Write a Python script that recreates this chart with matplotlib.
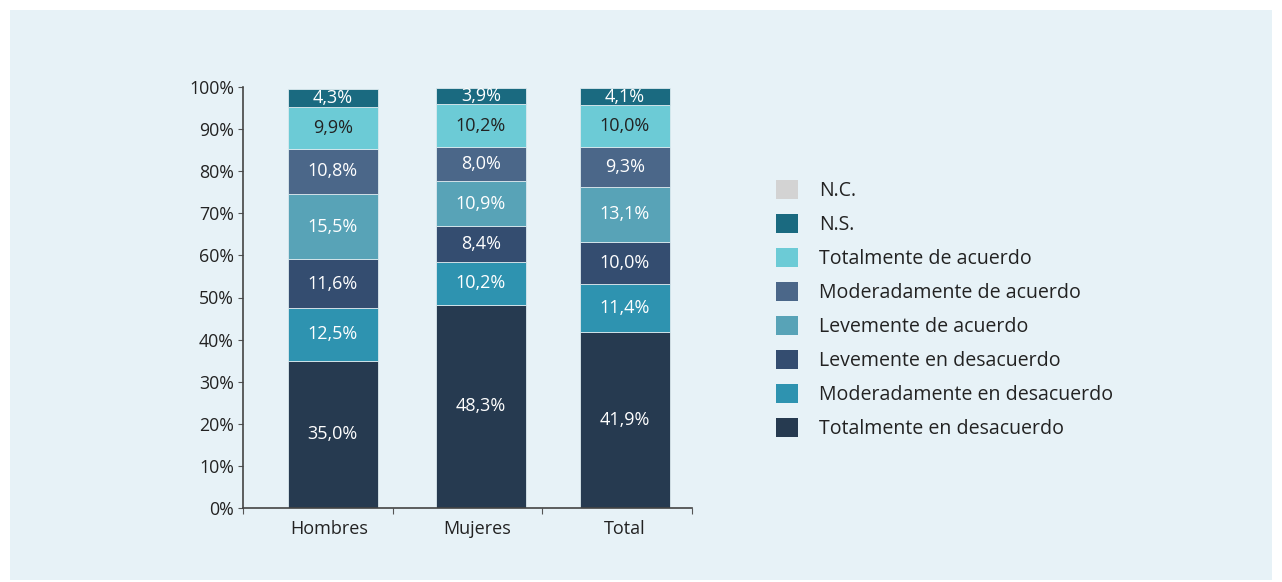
import matplotlib
matplotlib.use("Agg")
import matplotlib.pyplot as plt
from matplotlib.patches import Rectangle, Patch

plt.rcParams['font.family'] = ['Open Sans', 'DejaVu Sans']

groups = ['Hombres', 'Mujeres', 'Total']
series = ['Totalmente en desacuerdo', 'Moderadamente en desacuerdo', 'Levemente en desacuerdo',
          'Levemente de acuerdo', 'Moderadamente de acuerdo', 'Totalmente de acuerdo', 'N.S.', 'N.C.']
tot_desac = [35.0, 48.3, 41.9]
mod_desac = [12.5, 10.2, 11.4]
lev_desac = [11.6, 8.4, 10.0]
lev_acu = [15.5, 10.9, 13.1]
mod_acu = [10.8, 8.0, 9.3]
tot_acu = [9.9, 10.2, 10.0]
ns = [4.3, 3.9, 4.1]
nc = [0.0, 0.0, 0.0]
values = [tot_desac, mod_desac, lev_desac, lev_acu, mod_acu, tot_acu, ns, nc]
colors = ['#263a50', '#2e93b0', '#344d70', '#58a3b7', '#4b6789', '#6ccbd6', '#1a6a80', '#d3d3d3']
text_colors = ['white', 'white', 'white', 'white', 'white', '#222222', 'white', None]

fig = plt.figure(figsize=(12.82, 5.82), dpi=100)
fig.patch.set_facecolor('white')
fig.patches.append(Rectangle((10 / 1282, 2 / 582), 1262 / 1282, 570 / 582,
                             transform=fig.transFigure, facecolor='#e7f2f7', edgecolor='none', zorder=-5))

ax = fig.add_axes([243 / 1282, 1 - 507.7 / 582, 449 / 1282, 420.4 / 582])
ax.set_facecolor('none')
ax.set_zorder(2)

xpos = [0.6, 1.59, 2.55]
label_pos = [0.578, 1.567, 2.548]
bottom = [0, 0, 0]
for vals, col, tc in zip(values, colors, text_colors):
    if sum(vals) > 0:
        ax.bar(xpos, vals, width=0.6, bottom=bottom, color=col, edgecolor='#dbe9ee', linewidth=0.6)
    if tc is not None:
        for x, b, v in zip(xpos, bottom, vals):
            ax.text(x, b + v / 2, f"{v:.1f}%".replace('.', ','), ha='center', va='center',
                    color=tc, fontsize=13)
    bottom = [b + v for b, v in zip(bottom, vals)]

ax.set_xlim(0, 3)
ax.set_ylim(0, 100)
ax.set_yticks(range(0, 101, 10))
ax.set_yticklabels([f"{t}%" for t in range(0, 101, 10)], fontsize=12.8, color='#222222')
ax.set_xticks([0, 1, 2, 3])
ax.set_xticklabels([])
ax.set_xticks(label_pos, minor=True)
ax.set_xticklabels(groups, minor=True, fontsize=13, color='#222222')
ax.tick_params(axis='x', which='minor', length=0, pad=9)
ax.tick_params(axis='x', which='major', length=4, color='#555555')
ax.tick_params(axis='y', length=3.5, color='#555555', pad=3)
for s in ['top', 'right']:
    ax.spines[s].set_visible(False)
for s in ['left', 'bottom']:
    ax.spines[s].set_color('#444444')
    ax.spines[s].set_linewidth(1.2)

handles = [Patch(facecolor=c, edgecolor='none', label=l) for c, l in zip(colors, series)][::-1]
fig.legend(handles=handles, loc='upper left', bbox_to_anchor=(758 / 1282, 1 - 162 / 582),
           frameon=False, fontsize=14.05, handlelength=1.13, handleheight=1.13,
           handletextpad=1.1, labelspacing=0.66, labelcolor='#222222')

fig.savefig('out.png', dpi=100)
